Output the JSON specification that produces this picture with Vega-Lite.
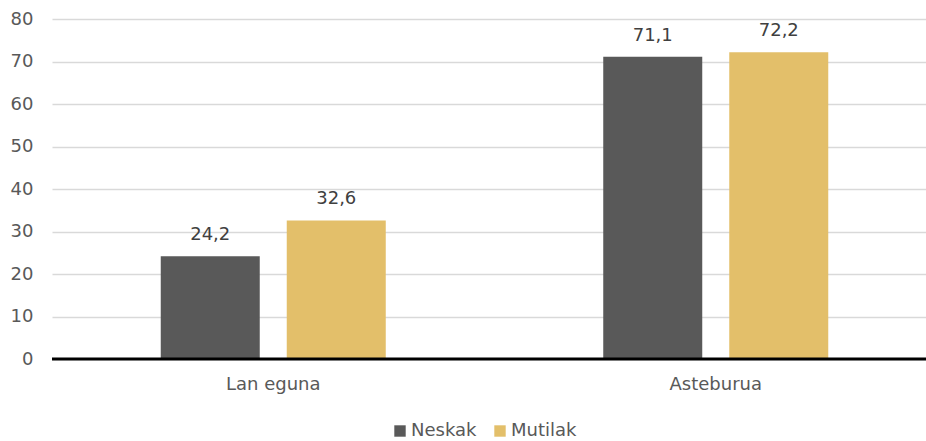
{
  "$schema": "https://vega.github.io/schema/vega-lite/v6.json",
  "width": 874,
  "height": 340,
  "autosize": {"type": "none"},
  "padding": {"left": 52, "top": 19, "right": 0, "bottom": 82},
  "background": "white",
  "config": {
    "font": "DejaVu Sans",
    "view": {"stroke": null},
    "locale": {"number": {"decimal": ",", "thousands": ".", "grouping": [3], "currency": ["", " €"]}}
  },
  "data": {
    "values": [
      {"kategoria": "Lan eguna", "taldea": "Neskak", "balioa": 24.2},
      {"kategoria": "Lan eguna", "taldea": "Mutilak", "balioa": 32.6},
      {"kategoria": "Asteburua", "taldea": "Neskak", "balioa": 71.1},
      {"kategoria": "Asteburua", "taldea": "Mutilak", "balioa": 72.2}
    ]
  },
  "layer": [
    {
      "mark": {"type": "bar"},
      "encoding": {
        "x": {
          "field": "kategoria", "type": "nominal", "sort": ["Lan eguna", "Asteburua"],
          "scale": {"paddingInner": 0, "paddingOuter": 0, "range": [0, 885]},
          "axis": {"title": null, "labelAngle": 0, "ticks": false, "domain": false, "labelFontSize": 18, "labelColor": "#595959", "labelPadding": 16}
        },
        "xOffset": {
          "field": "taldea", "type": "nominal", "sort": ["Neskak", "Mutilak"],
          "scale": {"paddingInner": 0.2143, "paddingOuter": 0.863}
        },
        "y": {
          "field": "balioa", "type": "quantitative",
          "scale": {"domain": [0, 80], "nice": false},
          "axis": {"title": null, "values": [0,10,20,30,40,50,60,70,80], "ticks": false, "domain": false, "gridColor": "#d9d9d9", "gridWidth": 1.5, "labelFontSize": 18, "labelColor": "#595959", "labelPadding": 19}
        },
        "color": {
          "field": "taldea", "type": "nominal", "sort": ["Neskak", "Mutilak"],
          "scale": {"domain": ["Neskak", "Mutilak"], "range": ["#595959", "#e3bf6a"]},
          "legend": {"orient": "none", "legendX": 339, "legendY": 403, "direction": "horizontal", "title": null, "symbolType": "square", "symbolSize": 130, "symbolStrokeWidth": 0, "labelFontSize": 18, "labelColor": "#595959", "columnPadding": 14, "labelOffset": 2}
        }
      }
    },
    {
      "mark": {"type": "text", "dy": -12, "fontSize": 18, "color": "#404040", "baseline": "bottom"},
      "encoding": {
        "x": {"field": "kategoria", "type": "nominal", "sort": ["Lan eguna", "Asteburua"]},
        "xOffset": {"field": "taldea", "type": "nominal", "sort": ["Neskak", "Mutilak"]},
        "y": {"field": "balioa", "type": "quantitative"},
        "text": {"field": "balioa", "type": "quantitative", "format": ".1f"}
      }
    },
    {
      "data": {"values": [{"y": 0}]},
      "mark": {"type": "rule", "color": "#000000", "strokeWidth": 3},
      "encoding": {"y": {"field": "y", "type": "quantitative"}}
    }
  ]
}
